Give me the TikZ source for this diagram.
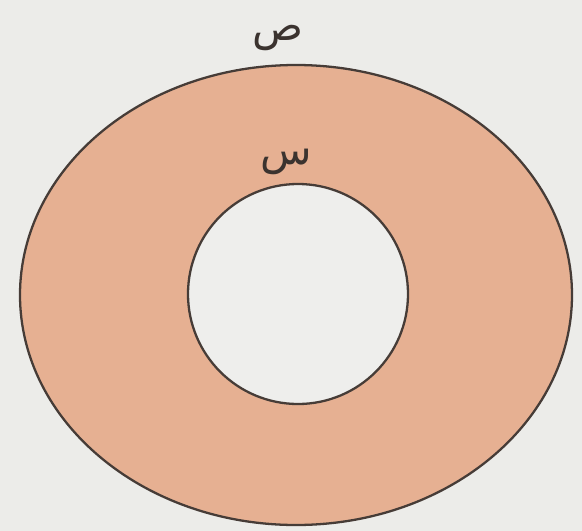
\documentclass[tikz,border=0pt]{standalone}
\usepackage{fontspec}
\newfontfamily\arabicfont[Script=Arabic]{DejaVu Sans}
\TeXXeTstate=1
\definecolor{ringF}{RGB}{230,176,146}
\definecolor{ringD}{RGB}{70,60,55}
\definecolor{paperB}{RGB}{236,236,233}
\definecolor{holeB}{RGB}{238,238,236}
\newcommand{\RX}{276}
\newcommand{\RY}{230}
\newcommand{\RI}{110}

\begin{document}
\begin{tikzpicture}[x=0.02cm, y=-0.02cm,
    edge/.style={draw=ringD, line width=1.3pt},
    lbl/.style={font=\arabicfont\fontsize{24}{28}\selectfont, text=ringD!85!black},
  ]

  %% ================= page =================
  \fill[paperB] (0,0) rectangle (582,531);
  \useasboundingbox (0,0) rectangle (582,531);

  %% ================= the ring =================
  \coordinate (o) at (296,295);
  \coordinate (c) at (298,294);
  \fill[ringF, even odd rule] (o) ellipse[x radius=\RX, y radius=\RY]
    (c) circle[radius=\RI];
  \fill[holeB] (c) circle[radius=\RI];
  \draw[edge] (o) ellipse[x radius=\RX, y radius=\RY];
  \draw[edge] (c) circle[radius=\RI];

  %% ---- radii names ----
  \node[lbl] (outer) at (278,38) {\beginR ص\endR};
  \node[lbl] (inner) at (286,162) {\beginR س\endR};

\end{tikzpicture}
\end{document}
